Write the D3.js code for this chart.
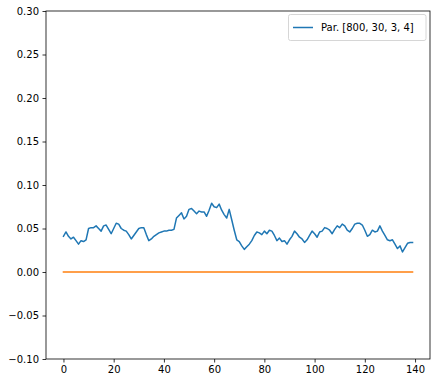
<!DOCTYPE html>
<html><head><meta charset="utf-8">
<script src="https://cdn.jsdelivr.net/npm/d3@7"></script>
<style>body{margin:0;background:#fff}svg{display:block;font-family:"DejaVu Sans",sans-serif}</style>
</head><body>
<script>
const parValues = [0.041,0.046,0.041,0.038,0.040,0.036,0.032,0.036,0.035,0.037,
0.050,0.051,0.051,0.053,0.050,0.047,0.053,0.054,0.049,0.044,
0.050,0.056,0.055,0.050,0.048,0.047,0.043,0.038,0.042,0.046,
0.050,0.051,0.051,0.043,0.036,0.038,0.041,0.043,0.045,0.046,
0.047,0.047,0.048,0.048,0.049,0.062,0.065,0.068,0.061,0.064,
0.072,0.073,0.070,0.067,0.070,0.069,0.069,0.064,0.071,0.079,
0.075,0.074,0.078,0.071,0.066,0.062,0.072,0.060,0.048,0.037,
0.035,0.030,0.026,0.029,0.032,0.036,0.042,0.046,0.045,0.043,
0.047,0.044,0.048,0.047,0.042,0.036,0.039,0.035,0.036,0.032,
0.037,0.041,0.047,0.044,0.040,0.038,0.034,0.037,0.042,0.047,
0.044,0.040,0.046,0.047,0.051,0.050,0.048,0.044,0.049,0.053,
0.051,0.055,0.053,0.048,0.046,0.050,0.055,0.056,0.056,0.054,
0.048,0.041,0.043,0.048,0.046,0.047,0.053,0.047,0.042,0.037,
0.036,0.037,0.032,0.027,0.030,0.023,0.028,0.033,0.034,0.034];
const baselineX = [0, 139];
const baselineY = [0, 0];
const xTicks = [0,20,40,60,80,100,120,140];
const yTicks = [-0.10,-0.05,0.00,0.05,0.10,0.15,0.20,0.25,0.30];
const legendLabel = "Par. [800, 30, 3, 4]";

const W=436,H=392, L=46, R=430, T=11, B=359;
const svg=d3.select("body").append("svg").attr("width",W).attr("height",H);
const x=d3.scaleLinear().domain([-6.95,145.95]).range([L,R]);
const y=d3.scaleLinear().domain([-0.10,0.30]).range([B,T]);

const line=d3.line().x(d=>x(d[0])).y(d=>y(d[1]));
svg.append("path").datum(parValues.map((v,i)=>[i,v])).attr("d",line)
  .attr("fill","none").attr("stroke","#1f77b4").attr("stroke-width",1.5).attr("stroke-linejoin","round").attr("stroke-linecap","square");
svg.append("path").datum(baselineX.map((v,i)=>[v,baselineY[i]])).attr("d",line)
  .attr("fill","none").attr("stroke","#ff7f0e").attr("stroke-width",1.5).attr("stroke-linecap","square");

const xa=svg.append("g").attr("transform",`translate(0,${B})`)
  .call(d3.axisBottom(x).tickValues(xTicks).tickSize(3.5).tickPadding(3.5).tickFormat(d3.format("d")));
const ya=svg.append("g").attr("transform",`translate(${L},0)`)
  .call(d3.axisLeft(y).tickValues(yTicks).tickSize(3.5).tickPadding(3.5).tickFormat(d=>d3.format(".2f")(d).replace("-","\u2212")));
[xa,ya].forEach(g=>{g.select(".domain").remove();g.selectAll("text").attr("font-size",10).attr("font-family","DejaVu Sans").attr("fill","#000");g.selectAll("line").attr("stroke","#000").attr("stroke-width",0.8);});
svg.append("rect").attr("x",L).attr("y",T).attr("width",R-L).attr("height",B-T)
  .attr("fill","none").attr("stroke","#000").attr("stroke-width",0.8);

const lg=svg.append("g");
lg.append("rect").attr("x",288.5).attr("y",14.5).attr("width",137.5).attr("height",26).attr("rx",2)
  .attr("fill","#fff").attr("fill-opacity",0.8).attr("stroke","#cccccc").attr("stroke-width",0.8);
lg.append("line").attr("x1",293).attr("x2",313).attr("y1",27.5).attr("y2",27.5).attr("stroke","#1f77b4").attr("stroke-width",1.5);
lg.append("text").attr("x",321).attr("y",31).attr("font-size",10).attr("fill","#000").text(legendLabel);
</script>
</body></html>
